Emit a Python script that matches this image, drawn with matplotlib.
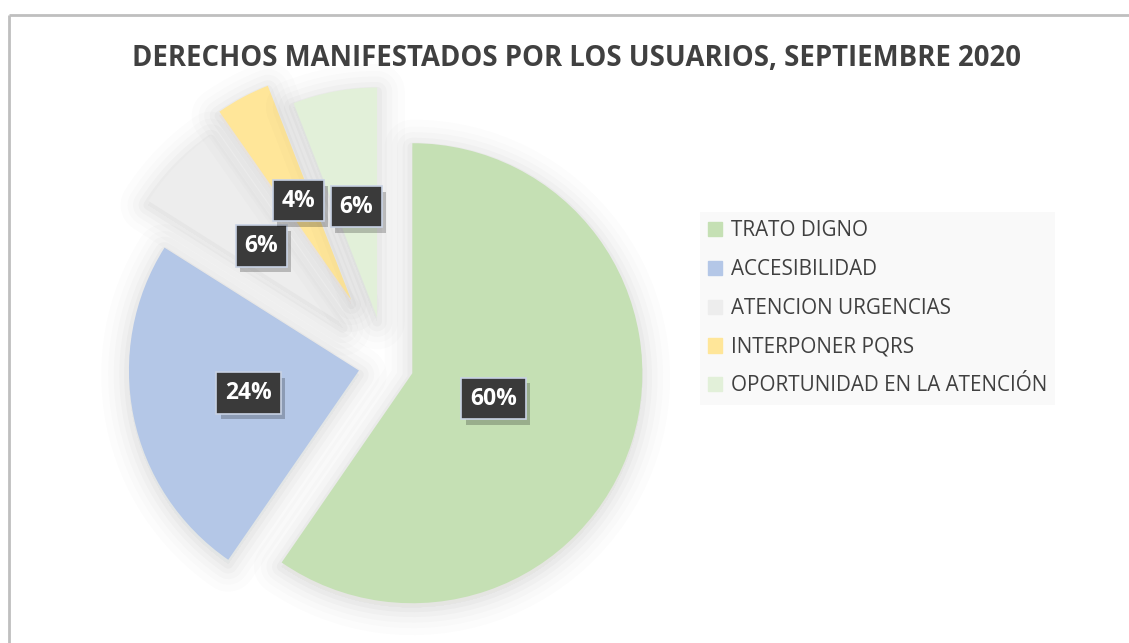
import matplotlib
matplotlib.use("Agg")
import matplotlib.pyplot as plt
import matplotlib.patches as mpatches
import matplotlib.patheffects as pe
import numpy as np

# data
categorias = ["TRATO DIGNO", "ACCESIBILIDAD", "ATENCION URGENCIAS",
              "INTERPONER PQRS", "OPORTUNIDAD EN LA ATENCIÓN"]
porcentajes = [59.5, 24.3, 6.3, 3.8, 5.9]
titulo = "DERECHOS MANIFESTADOS POR LOS USUARIOS, SEPTIEMBRE 2020"

colores = ["#C5E0B4", "#B4C7E7", "#EDEDED", "#FFE699", "#E2F0D9"]
explode = [0.12, 0.12, 0.26, 0.32, 0.21]
dist_etiqueta = [0.37, 0.49, 0.49, 0.49, 0.49]

W, H = 1129, 643
fig = plt.figure(figsize=(W / 100, H / 100), dpi=100)
fig.patch.set_facecolor("white")

# chart border (left and top visible)
fig.add_artist(plt.Line2D([9 / W, 9 / W], [0, 1 - 15 / H], color="#BFBFBF", lw=2,
                          solid_capstyle="butt"))
fig.add_artist(plt.Line2D([9 / W, 1.01], [1 - 15 / H, 1 - 15 / H], color="#BFBFBF", lw=2,
                          solid_capstyle="butt"))

# pie axes: center ~ (386, 365) px, radius ~ 230 px
cx, cy, R = 386, 365, 230
half = 320
ax = fig.add_axes([(cx - half) / W, (H - cy - half) / H, 2 * half / W, 2 * half / H])
wedges, _ = ax.pie(porcentajes, colors=colores, explode=explode, startangle=90,
                   counterclock=False, radius=1.0,
                   wedgeprops=dict(linewidth=0))
# soft shadow around slices
sombra = []
for lw, a in [(40, 0.010), (30, 0.012), (22, 0.015), (14, 0.02), (7, 0.025)]:
    sombra.append(pe.Stroke(linewidth=lw, foreground="#000000", alpha=a,
                            offset=(0, -3), joinstyle="round"))
sombra.append(pe.Normal())
for w in wedges:
    w.set_path_effects(sombra)
ax.set_xlim(-half / R, half / R)
ax.set_ylim(-half / R, half / R)
ax.set_aspect("equal")
ax.axis("off")

total = sum(porcentajes)
for w, p, d in zip(wedges, porcentajes, dist_etiqueta):
    ang = np.deg2rad((w.theta1 + w.theta2) / 2)
    x = w.center[0] + d * w.r * np.cos(ang)
    y = w.center[1] + d * w.r * np.sin(ang)
    txt = "%.0f%%" % (100 * p / total)
    t = ax.text(x, y, txt, ha="center", va="center", fontsize=16.5, fontweight="bold",
                family="Open Sans", color="white",
                bbox=dict(boxstyle="square,pad=0.38", fc="#3A3A3A", ec="#C8D2E4", lw=1.2))
    # label box shadow
    t.get_bbox_patch().set_path_effects([
        pe.SimplePatchShadow(offset=(3, -4), shadow_rgbFace="#000000", alpha=0.22),
        pe.Normal()])

fig.text(576 / W, 1 - 58 / H, titulo, ha="center", va="center", fontsize=19.8,
         fontweight="bold", family="Open Sans", color="#404040")

handles = [mpatches.Patch(color=c) for c in colores]
leg = fig.legend(handles, categorias, loc="upper left",
                 bbox_to_anchor=(700 / W, 1 - 212 / H), frameon=True,
                 fancybox=False, prop=dict(family="Open Sans", size=14.9),
                 handlelength=0.68, handleheight=0.68, handletextpad=0.4,
                 labelspacing=0.86, borderpad=0.4, borderaxespad=0)
leg.get_frame().set_facecolor("#F8F8F8")
leg.get_frame().set_edgecolor("none")
for t in leg.get_texts():
    t.set_color("#404040")

fig.savefig("out.png", dpi=100)
